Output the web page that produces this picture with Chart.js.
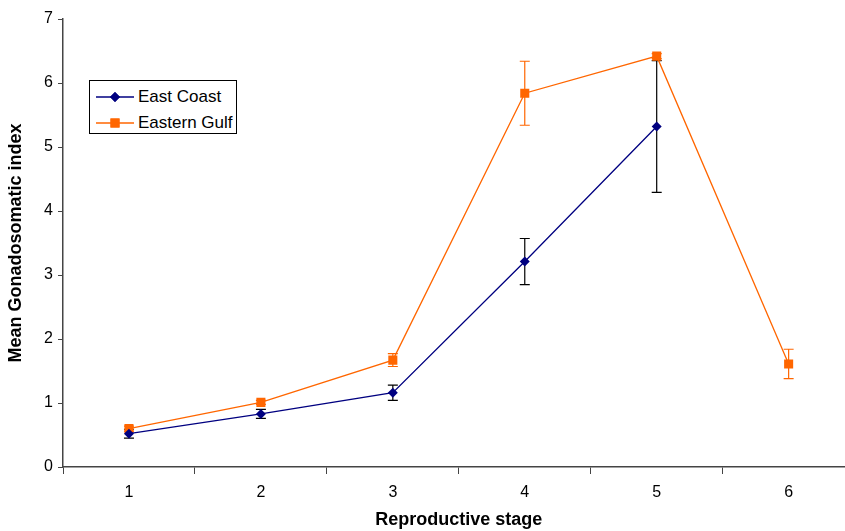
<!DOCTYPE html>
<html>
<head>
<meta charset="utf-8">
<script src="https://cdn.jsdelivr.net/npm/chart.js@4/dist/chart.umd.min.js"></script>
<style>
    html, body { margin: 0; padding: 0; background: #fff; overflow: hidden; }
    #wrap { position: relative; width: 861px; height: 531px; }
    #legend {
        position: absolute; left: 89px; top: 80px; width: 146px; height: 52px;
        border: 1px solid #000; background: #fff;
        font-family: Arial, "Liberation Sans", sans-serif; font-size: 17px; color: #000;
    }
    .item { position: absolute; left: 0; height: 20px; }
    .item span.txt { position: absolute; left: 48px; top: 0; white-space: nowrap; line-height: 20px; }
    .item canvas { position: absolute; left: 6px; top: 2px; }
</style>
</head>
<body>
<div id="wrap">
    <canvas id="gsiChart" width="861" height="531"></canvas>
    <div id="legend">
        <div class="item" style="top:6px"><canvas id="lg1" width="38" height="16"></canvas><span class="txt">East Coast</span></div>
        <div class="item" style="top:32px"><canvas id="lg2" width="38" height="16"></canvas><span class="txt">Eastern Gulf</span></div>
    </div>
</div>
<script>
// data
const stages = ['1', '2', '3', '4', '5', '6'];
const eastCoast = [0.52, 0.83, 1.16, 3.21, 5.32, null];
const eastCoastErr = [0.07, 0.07, 0.12, 0.36, 1.03, null];
const easternGulf = [0.60, 1.01, 1.67, 5.84, 6.42, 1.61];
const easternGulfErr = [0.04, 0.03, 0.10, 0.50, 0.04, 0.23];

const navy = '#000080';
const orange = '#FF6600';
const axisColor = '#444';

// error bars drawn through the chart scales
const errorBars = {
    id: 'errorBars',
    beforeDatasetsDraw(chart) {
        const ctx = chart.ctx;
        const x = chart.scales.x, y = chart.scales.y;
        const sets = [
            { vals: easternGulf, errs: easternGulfErr, color: orange },
            { vals: eastCoast, errs: eastCoastErr, color: '#000' }
        ];
        ctx.save();
        ctx.lineWidth = 1.2;
        sets.forEach(s => {
            ctx.strokeStyle = s.color;
            s.vals.forEach((v, i) => {
                if (v === null || s.errs[i] === null) return;
                const px = x.getPixelForValue(i);
                const top = y.getPixelForValue(v + s.errs[i]);
                const bot = y.getPixelForValue(v - s.errs[i]);
                ctx.beginPath();
                ctx.moveTo(px, top); ctx.lineTo(px, bot);
                ctx.moveTo(px - 5, top); ctx.lineTo(px + 5, top);
                ctx.moveTo(px - 5, bot); ctx.lineTo(px + 5, bot);
                ctx.stroke();
            });
        });
        ctx.restore();
    }
};

const ctx = document.getElementById('gsiChart').getContext('2d');
new Chart(ctx, {
    type: 'line',
    data: {
        labels: stages,
        datasets: [{
            label: 'East Coast',
            data: eastCoast,
            borderColor: navy,
            backgroundColor: navy,
            borderWidth: 1.3,
            pointStyle: 'rectRot',
            pointRadius: 5,
            pointBorderWidth: 0,
            tension: 0,
            spanGaps: false
        }, {
            label: 'Eastern Gulf',
            data: easternGulf,
            borderColor: orange,
            backgroundColor: orange,
            borderWidth: 1.3,
            pointStyle: 'rect',
            pointRadius: 6.4,
            pointBorderWidth: 0,
            tension: 0
        }]
    },
    options: {
        responsive: false,
        animation: false,
        layout: { padding: { top: 19, right: 2, left: 0, bottom: 0 } },
        plugins: { legend: { display: false }, tooltip: { enabled: false } },
        scales: {
            x: {
                offset: true,
                grid: { offset: true, drawOnChartArea: false, drawTicks: true, tickLength: 7, color: axisColor },
                border: { display: true, color: axisColor, width: 1.5 },
                ticks: { color: '#000', font: { family: 'Arial', size: 16 }, padding: 9, maxRotation: 0 },
                title: { display: true, text: 'Reproductive stage', color: '#000', font: { family: 'Arial', size: 18, weight: 'bold' }, padding: { top: 5, bottom: 0 } },
                afterFit(scale) { scale.height = 64; }
            },
            y: {
                min: 0, max: 7,
                grid: { drawOnChartArea: false, drawTicks: true, tickLength: 5, color: axisColor },
                border: { display: true, color: axisColor, width: 1.5 },
                ticks: { stepSize: 1, color: '#000', font: { family: 'Arial', size: 16 }, padding: 5 },
                title: { display: true, text: 'Mean Gonadosomatic index', color: '#000', font: { family: 'Arial', size: 18, weight: 'bold' }, padding: { top: 5, bottom: 0 } },
                afterFit(scale) { scale.width = 63; }
            }
        }
    },
    plugins: [errorBars]
});

// legend samples
function drawSample(id, color, style, r) {
    const c = document.getElementById(id).getContext('2d');
    c.strokeStyle = color; c.fillStyle = color; c.lineWidth = 1.3;
    c.beginPath(); c.moveTo(0, 8); c.lineTo(38, 8); c.stroke();
    Chart.helpers.drawPoint(c, { pointStyle: style, radius: r, borderWidth: 0 }, 19, 8);
    c.fill();
}
drawSample('lg1', navy, 'rectRot', 5);
drawSample('lg2', orange, 'rect', 6.4);
</script>
</body>
</html>
